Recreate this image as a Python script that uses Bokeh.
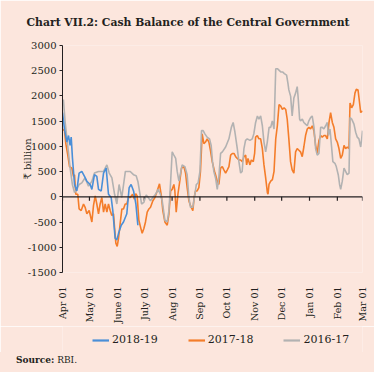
from bokeh.plotting import figure
from bokeh.models import (Range1d, FixedTicker, Span, Legend, LegendItem, Title, Div)
from bokeh.layouts import column
from bokeh.embed import file_html
from bokeh.resources import INLINE
import math

# ---------------- data (₹ billion) ----------------
month_ticks = [0, 30, 61, 91, 122, 153, 183, 214, 244, 275, 306, 334]
month_labels = ["Apr 01", "May 01", "June 01", "July 01", "Aug 01", "Sep 01",
                "Oct 01", "Nov 01", "Dec 01", "Jan 01", "Feb 01", "Mar 01"]
y_ticks = [-1500, -1000, -500, 0, 500, 1000, 1500, 2000, 2500, 3000]

days_2018 = [0, 2.2, 4.8, 6.7, 8.5, 9.7, 11.1, 13.4, 15.9, 18.5, 21.5, 24.5, 27.1, 30.8,
             32.7, 35.6, 38.2, 40.1, 43.1, 45.7, 48.6, 51.2, 54.2, 56, 58.6, 60.5, 62.4,
             65.4, 67.9, 71.6, 74.2, 76.4, 79.1, 81.7, 83.9]
vals_2018 = [1668, 1344, 1086, 1215, 1021, 1183, 762, 245, 116, 471, 503, 407, 310, 245,
             148, 439, 407, 148, 116, 471, 568, 51, -13, -272, -821, -853, -724,
             -563, -498, -336, 181, 245, 116, -142, -563]

days_2017 = [0, 2.2, 3.7, 5.9, 7.8, 10.4, 12.2, 13.4, 14.8, 17, 18.5, 20.8, 23.4, 25.2,
             27.1, 29.7, 32.7, 34.5, 36.4, 38.2, 40.1, 41.9, 43.8, 45.7, 47.5, 49.4, 51.2,
             53.1, 54.9, 56.8, 57.9, 59.4, 60.9, 62.4, 64.2, 66.1, 67.9, 69.8, 71.6, 73.5,
             75.4, 78, 80, 81.5, 83.1, 85, 86.8, 88.7, 90.6, 92.4, 94.3, 96.2, 98, 100.6,
             102.9, 105.4, 108, 110.3, 111.7, 114, 116.6, 118.5, 120.4, 122.1, 124, 125.1,
             126.6, 128.5, 130.3, 132.5, 135.1, 137, 138.8, 140.7, 142.5, 145.1, 146.6,
             148.1, 149.9, 151.8, 153.6, 155.5, 157.4, 159.2, 161.1, 163, 164.8, 166.7,
             169.3, 170.4, 172.3, 174.1, 176, 177.9, 179.7, 181.6, 183.5, 185.3, 187.2,
             189.1, 190.9, 192.8, 194.6, 196.5, 198.3, 200.2, 202, 203.9, 205, 206.5,
             208.7, 210.2, 212.4, 213.9, 215, 216.9, 218.7, 220.6, 222.5, 224.3, 226.2,
             228.1, 228.8, 229.9, 231.8, 233.7, 235.5, 237.4, 239.2, 241.1, 243, 244.8,
             246.7, 248.5, 250.2, 252, 253.9, 255.7, 257.6, 259.5, 261.3, 263.2, 265,
             266.9, 268.7, 270.6, 272.5, 274.3, 276.2, 278.1, 279.9, 281.8, 283.6, 285.5,
             287.4, 289.2, 291.1, 292.9, 294.8, 296.7, 298.5, 300.4, 302.2, 304.1, 305.9,
             307.8, 309.7, 311.5, 313.4, 315.2, 317.1, 318.9, 320.1, 321.9, 323.8, 325.6,
             327.1, 329, 330.1, 332, 333.1, 334]
vals_2017 = [1344, 1312, 1053, 827, 600, 568, 407, 439, 51, 51, -240, -272, -142, -207,
             -336, -272, -498, -175, 19, -142, -336, -142, -13, -304, -142, -304, -142,
             -272, -369, -336, -595, -918, -983, -821, -530, -240, -240, -142, -142, -13,
             -13, 51, -45, 60, 19, -465, -595, -724, -627, -498, -304, -240, -207, -78,
             -13, 116, 259, -13, -272, -498, -563, -336, 116, 148, 245, 116,
             -304, 51, 277, 568, 600, 471, 181, -78, -175, -272, -13,
             116, 116, 181, 503, 1248, 1053, 1086, 1150, 1086, 910, 697,
             503, 439, 310, 245, 568, 600, 535, 471, 535, 600, 827,
             860, 860, 795, 762, 730, 730, 697, 795, 827, 633, 762,
             633, 730, 697, 860, 1183, 1215, 1150, 1150, 957, 633, 374,
             84, 52, 245, 310, 342, 503, 1150, 1409, 1830, 1797, 1732,
             1765, 1732, 1538, 1150, 697, 535, 471, 892, 957, 924, 892,
             795, 988, 1215, 1345, 1377, 1345, 1409, 1312, 1021, 860, 1118,
             1215, 1183, 1215, 1215, 1150, 1474, 1668, 1474, 1377, 1150, 1086,
             957, 762, 827, 1021, 957, 988, 957, 1862, 1765, 1830, 2056,
             2134, 2120, 1959, 1668, 1700, 1680]

days_2016 = [0, 1, 3, 5, 8.5, 11, 13.4, 16, 18.5, 21.5, 25, 29, 32.7, 35.6, 40, 45.7, 49.4,
             52, 55, 58, 60.5, 63, 66, 70, 75.4, 79, 82, 84, 86, 88, 90.6, 93.2, 95.4, 98,
             100.6, 103.6, 106.5, 109, 111, 114, 116.6, 118.5, 120.4, 122.1, 124, 126,
             127.7, 129.6, 131.4, 133.2, 136.2, 138.8, 140.7, 142.5, 145, 147.4, 149, 151,
             153, 154.8, 156.6, 158.5, 161, 163.7, 165.5, 167, 168.5, 170.4, 172.3, 174,
             176, 178, 181.6, 185.3, 188, 190, 192, 194.6, 196.4, 198.3, 200, 202, 203.8,
             205.7, 208.7, 211.3, 213, 215, 217, 218.7, 220.6, 222.5, 224.3, 226.2, 228,
             230, 231.8, 233.6, 235.5, 237.4, 239.2, 243, 245, 247, 249.5, 251, 252, 254,
             255.7, 257.6, 259.5, 261.3, 262.4, 264, 265, 267, 268.7, 270.6, 272.5, 274.3,
             276.2, 278, 280, 281.8, 283.6, 285.5, 287.4, 289.2, 291, 293, 294.8, 296,
             297.8, 299.6, 301, 303.3, 304.8, 307, 308.5, 309.7, 311.5, 313.4, 315.2, 317,
             319, 320.1, 322, 324.5, 326.4, 328.2, 330, 332, 333.1, 334]
vals_2016 = [1850, 1926, 1474, 1150, 568, 245, 83, 148, 245, 277, 374, 213, 310, 471, 503,
             503, 632, 471, 374, 51, -142, 245, -13, 503, 503, 439, 420, 300, 83, -142,
             -110, 39, -13, -78, -13, 51, 148, 51, -78, -465, -498, -272, 310, 892, 827,
             762, 503, 310, 471, 632, 600, 439, -13, -207, -207, 51, 245, 277, 503, 1312,
             1312, 1248, 1183, 1150, 1020, 700, 503, 374, 148, 374, 860, 892, 988, 1150,
             1377, 1474, 1280, 957, 697, 471, 503, 957, 1118, 1150, 1118, 1150, 1248,
             1474, 1603, 1539, 1603, 1409, 1086, 892, 1086, 1377, 1377, 1506, 1345, 2540,
             2540, 2476, 2476, 2444, 2412, 2250, 2120, 1991, 1603, 1959, 2056, 2185, 1959,
             1539, 1506, 1539, 1474, 1441, 1409, 1506, 1571, 1603, 1377, 957, 827, 860,
             1377, 1377, 1345, 1409, 1474, 1215, 1345, 988, 697, 665, 600, 439, 245, 148,
             310, 568, 503, 439, 471, 1571, 1539, 1441, 1280, 1183, 1150, 988, 1150, 1312]

series_names = ["2018-19", "2017-18", "2016-17"]
series_colors = ["#4A8FD8", "#F47D2A", "#B2B2B2"]

# ---------------- styling ----------------
BG = "#FCE6DD"
INK = "#231F20"
SERIF = "DejaVu Serif"
W = 374

p = figure(width=W, height=326, output_backend="svg", toolbar_location=None,
           x_range=Range1d(0, 334), y_range=Range1d(-1500, 3000),
           min_border_left=62, min_border_right=12, min_border_top=45,
           min_border_bottom=49)
p.background_fill_color = BG
p.border_fill_color = BG
p.outline_line_color = None
p.grid.grid_line_color = None

p.title = Title(text="Chart VII.2: Cash Balance of the Central Government",
                align="left", offset=-36, standoff=29, vertical_align="top",
                text_font=SERIF, text_font_style="bold", text_font_size="10.8px",
                text_color=INK)

# y axis
ya = p.yaxis[0]
ya.ticker = FixedTicker(ticks=y_ticks)
ya.major_label_overrides = {t: str(t) for t in y_ticks}
ya.minor_tick_line_color = None
ya.major_tick_in = 0
ya.major_tick_out = 3
ya.axis_line_color = INK
ya.major_tick_line_color = INK
ya.major_label_text_font = SERIF
ya.major_label_text_font_size = "10px"
ya.major_label_text_color = INK
ya.major_label_standoff = 3
ya.axis_label = "₹ billion"
ya.axis_label_text_font = SERIF
ya.axis_label_text_font_size = "10px"
ya.axis_label_text_font_style = "normal"
ya.axis_label_text_color = INK
ya.axis_label_standoff = -8

# x axis: labels only at the bottom
xa = p.xaxis[0]
xa.ticker = FixedTicker(ticks=month_ticks)
xa.major_label_overrides = {t: l for t, l in zip(month_ticks, month_labels)}
xa.major_label_orientation = math.pi / 2
xa.axis_line_color = None
xa.major_tick_line_color = None
xa.minor_tick_line_color = None
xa.major_label_standoff = 8
xa.major_label_text_font = SERIF
xa.major_label_text_font_size = "9.5px"
xa.major_label_text_color = INK

# zero line with downward ticks at month starts
p.add_layout(Span(location=0, dimension="width", line_color=INK, line_width=1.2))
tick_len = 4 * 4500 / 232
p.segment(x0=month_ticks, y0=[0] * len(month_ticks), x1=month_ticks,
          y1=[-tick_len] * len(month_ticks), line_color=INK, line_width=1.2)

# lines
r17 = p.line(days_2017, vals_2017, line_color=series_colors[1], line_width=1.6)
r16 = p.line(days_2016, vals_2016, line_color=series_colors[2], line_width=1.6)
r18 = p.line(days_2018, vals_2018, line_color=series_colors[0], line_width=1.6)

# legend strip (its own small figure; keys styled like the series lines)
lg = figure(width=W, height=26, output_backend="svg", toolbar_location=None,
            x_range=Range1d(0, 1), y_range=Range1d(0, 1),
            x_axis_location=None, y_axis_location=None,
            min_border_left=0, min_border_right=0, min_border_top=0,
            min_border_bottom=0)
lg.background_fill_color = BG
lg.border_fill_color = BG
lg.outline_line_color = None
lg.grid.grid_line_color = None
# single-point lines: nothing is drawn, they only carry the key styles
keys = [lg.line(x=[0], y=[0], line_color=c, line_width=2.2) for c in series_colors]
legend = Legend(items=[LegendItem(label=n, renderers=[k]) for n, k in zip(series_names, keys)],
                orientation="horizontal", location=(30, 6),
                border_line_color=None, background_fill_alpha=0,
                padding=0, margin=0, spacing=30, glyph_width=17, glyph_height=12,
                label_height=12, label_standoff=3,
                label_text_font=SERIF, label_text_font_size="11px",
                label_text_color=INK)
lg.add_layout(legend)

src = Div(text="<b>Source:</b> RBI.", width=W, height=20,
          styles={"background-color": BG, "font-family": SERIF, "font-size": "9px",
                  "color": INK, "padding-left": "16px", "padding-top": "2px",
                  "box-sizing": "border-box", "margin": "0"})

layout = column(p, lg, src, spacing=0)
open("out.html", "w").write(file_html(layout, INLINE))
